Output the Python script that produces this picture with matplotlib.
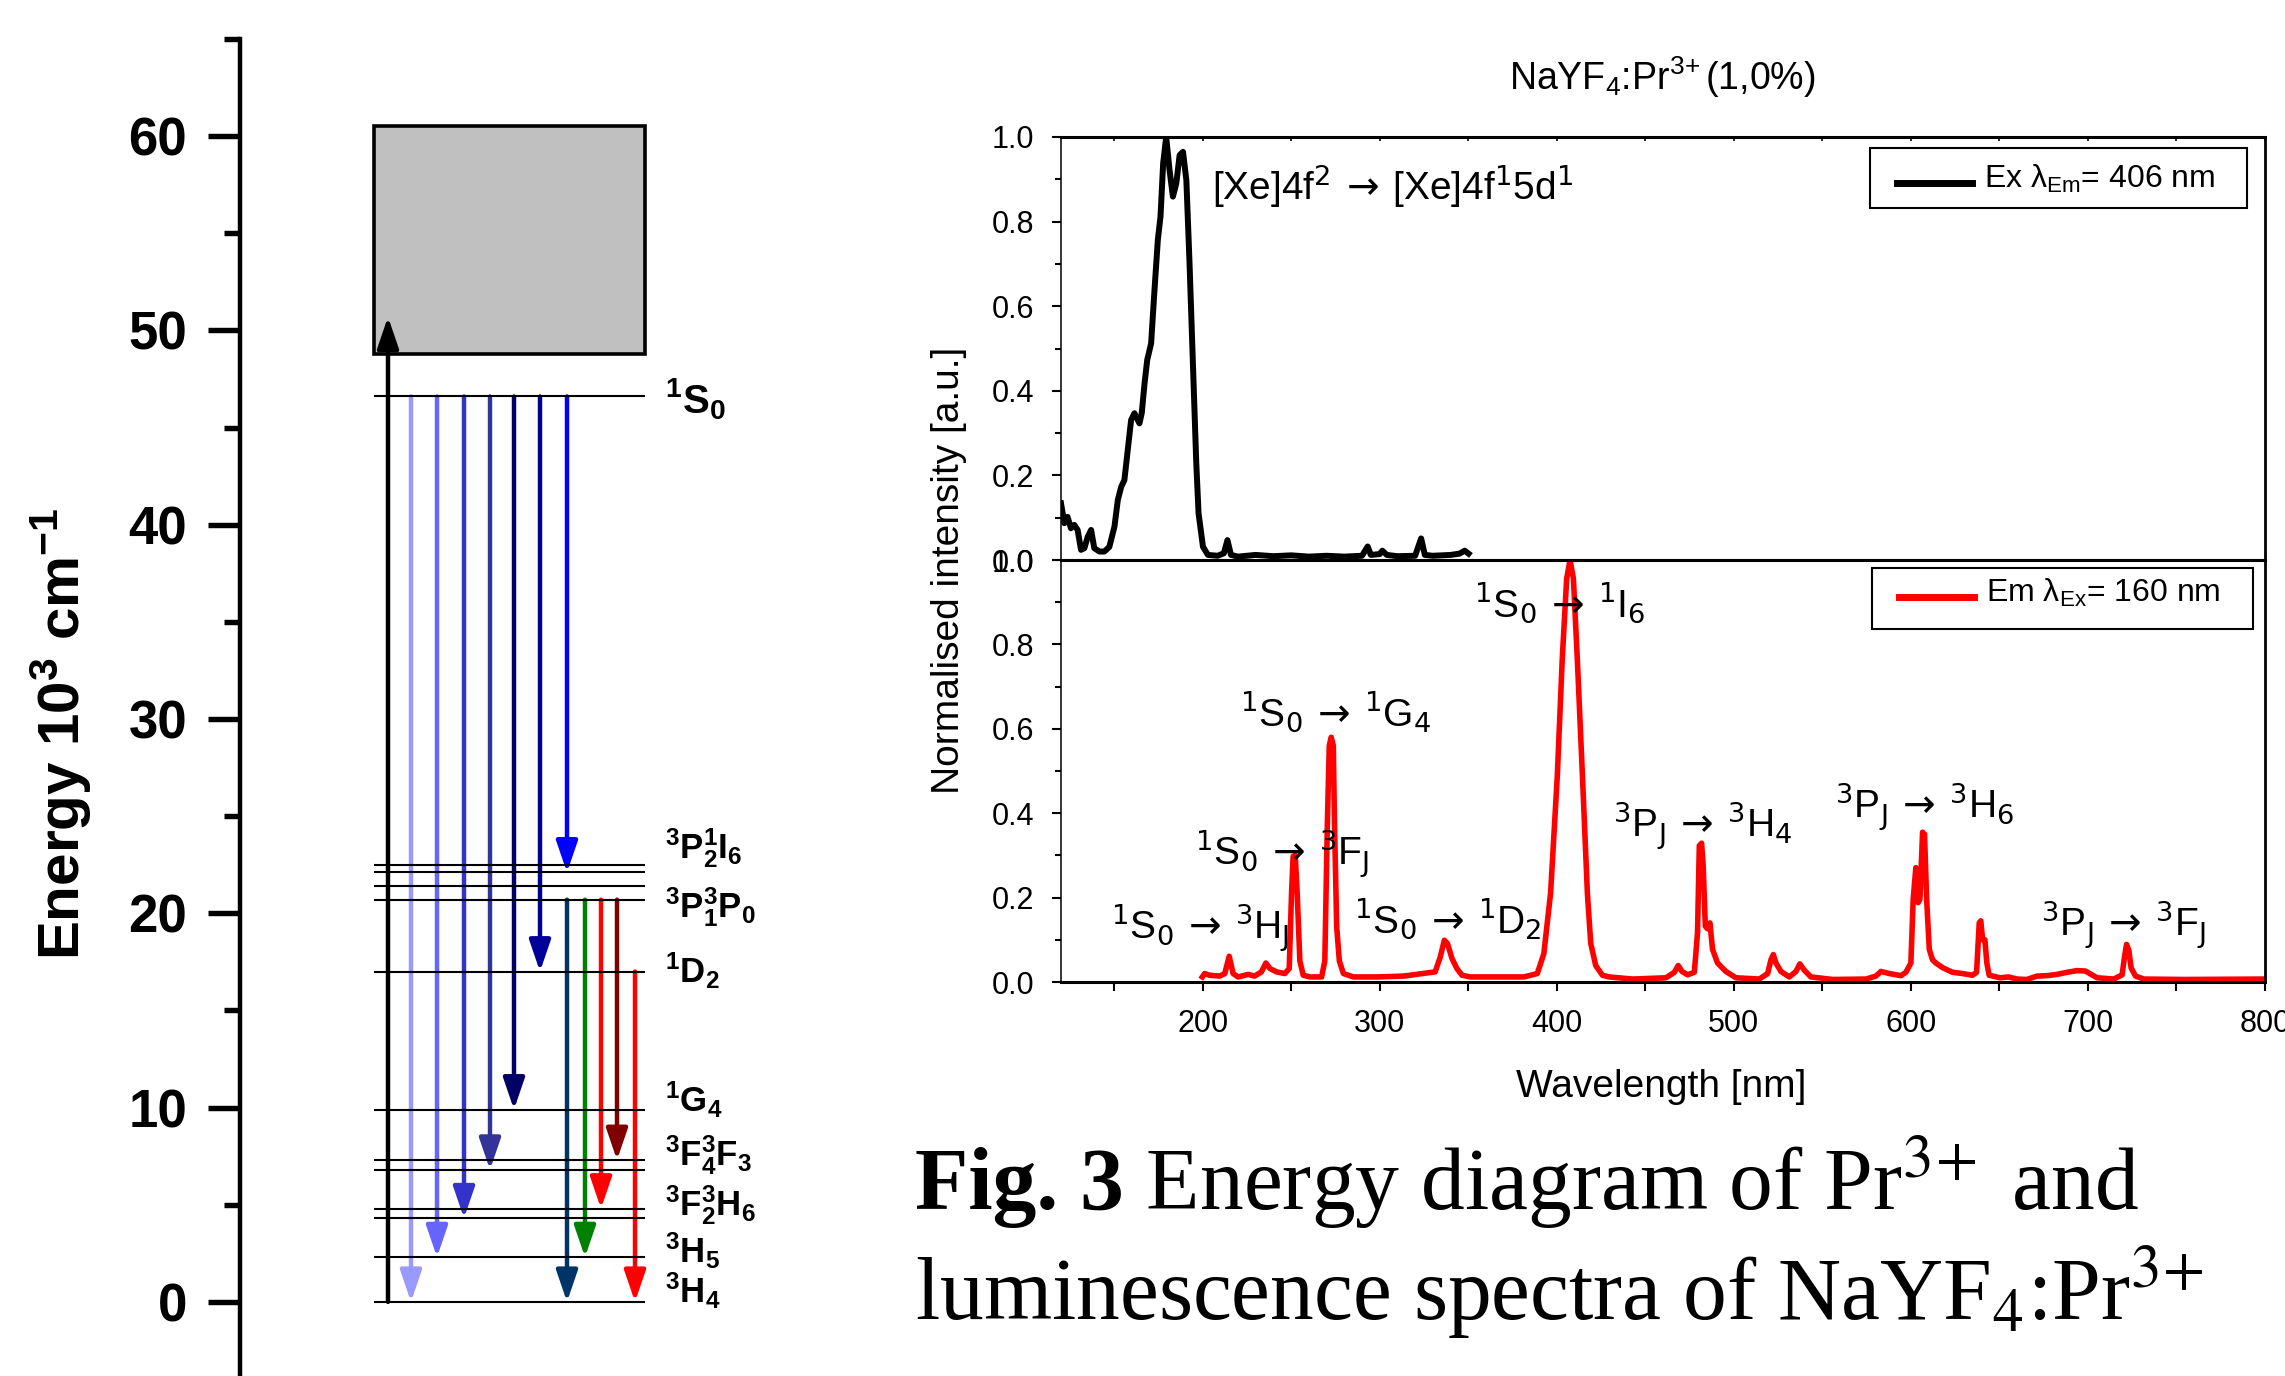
import matplotlib
matplotlib.use('Agg')
import matplotlib.pyplot as plt
from matplotlib.patches import Rectangle, FancyArrowPatch, ArrowStyle
from matplotlib.lines import Line2D
from matplotlib.ticker import MultipleLocator

plt.rcParams['font.family'] = ['Liberation Sans', 'DejaVu Sans']
plt.rcParams['mathtext.fontset'] = 'custom'
plt.rcParams['mathtext.rm'] = 'Liberation Sans'
plt.rcParams['mathtext.it'] = 'Liberation Sans'
plt.rcParams['mathtext.bf'] = 'Liberation Sans:bold'
plt.rcParams['mathtext.default'] = 'rm'

# ---- Pr3+ energy levels (10^3 cm^-1) ----
level_names = ['1S0', '3P2', '1I6', '3P1', '3P0', '1D2', '1G4',
               '3F4', '3F3', '3F2', '3H6', '3H5', '3H4']
level_energy = [46.6, 22.5, 22.1, 21.4, 20.7, 17.0, 9.9,
                7.3, 6.8, 4.8, 4.3, 2.3, 0.0]
band_bottom, band_top = 48.8, 60.5   # 4f5d band
excitation_top = 50.7

trans_from = ['1S0'] * 7 + ['3P0'] * 4 + ['1D2']
trans_to = ['3H4', '3H5', '3H6', '3F3', '1G4', '1D2', '1I6',
            '3H4', '3H5', '3F2', '3F4', '3H4']
trans_colors = ['#9999ff', '#6666ff', '#3333cc', '#333399', '#000066',
                '#000099', '#0000ff', '#003366', '#008000', '#ff0000',
                '#800000', '#ff0000']

label_texts = [r'$\mathbf{^1S_0}$', r'$\mathbf{^3P_2^1I_6}$',
               r'$\mathbf{^3P_1^3P_0}$', r'$\mathbf{^1D_2}$',
               r'$\mathbf{^1G_4}$', r'$\mathbf{^3F_4^3F_3}$',
               r'$\mathbf{^3F_2^3H_6}$', r'$\mathbf{^3H_5}$',
               r'$\mathbf{^3H_4}$']
label_energy = [45.75, 22.85, 19.81, 16.42, 9.75, 7.05, 4.47, 2.0, -0.05]

# ---- spectra ----
ex_wl = [120.0, 121.9, 123.7, 125.6, 127.5, 129.4, 131.3, 133.2, 135.1, 137.0,
         138.8, 141.7, 144.5, 147.3, 150.2, 152.1, 154.0, 155.8, 157.7, 159.6,
         161.5, 164.3, 165.6, 167.2, 168.7, 170.9, 172.8, 174.7, 176.2, 177.7,
         179.4, 181.3, 183.2, 185.1, 187.0, 188.9, 190.8, 192.6, 194.5, 196.4,
         197.7, 200.2, 203.0, 208.5, 212.0, 214.0, 216.0, 220.0, 230.0, 240.0,
         250.0, 260.0, 270.0, 280.0, 290.0, 293.2, 295.0, 300.0, 301.5, 304.0,
         310.0, 320.0, 323.4, 325.5, 330.0, 340.0, 345.0, 348.0, 350.2]
ex_int = [0.134, 0.087, 0.102, 0.075, 0.083, 0.071, 0.024, 0.028, 0.055, 0.071,
          0.028, 0.020, 0.020, 0.031, 0.079, 0.142, 0.173, 0.189, 0.260, 0.331,
          0.347, 0.323, 0.347, 0.418, 0.473, 0.512, 0.638, 0.757, 0.812, 0.938,
          1.000, 0.922, 0.859, 0.890, 0.957, 0.965, 0.898, 0.701, 0.465, 0.229,
          0.110, 0.031, 0.012, 0.010, 0.016, 0.047, 0.012, 0.008, 0.012, 0.009,
          0.011, 0.008, 0.010, 0.008, 0.010, 0.032, 0.012, 0.014, 0.022, 0.012,
          0.009, 0.010, 0.051, 0.012, 0.010, 0.012, 0.015, 0.022, 0.015]

em_wl = [199.8, 201.1, 203.9, 209.6, 212.5, 215.0, 217.2, 220.0, 225.7, 229.4,
         233.2, 235.7, 238.0, 241.7, 246.4, 248.9, 250.2, 251.1, 252.3, 253.4,
         254.9, 256.8, 260.6, 267.2, 269.0, 270.4, 271.5, 272.6, 273.8, 274.5,
         275.7, 277.2, 279.5, 285.1, 298.3, 313.4, 331.3, 334.2, 336.5, 338.3,
         340.8, 343.6, 346.5, 351.2, 381.4, 389.0, 392.7, 396.5, 400.3, 403.1,
         405.6, 407.5, 409.4, 411.6, 414.5, 417.3, 419.2, 422.0, 425.8, 429.6,
         442.8, 461.7, 466.4, 468.6, 470.7, 473.9, 477.7, 479.5, 480.5, 481.8,
         482.7, 483.9, 485.2, 486.5, 488.0, 490.8, 495.5, 501.2, 514.4, 519.1,
         521.0, 522.3, 523.8, 526.6, 531.3, 535.1, 537.3, 539.8, 543.5, 555.8,
         574.6, 580.2, 583.1, 587.8, 594.4, 597.2, 600.0, 601.3, 602.8, 604.1,
         605.1, 606.6, 607.7, 608.9, 610.4, 612.2, 614.1, 617.9, 623.5, 629.2,
         634.8, 637.1, 638.6, 639.5, 640.5, 641.8, 642.9, 644.2, 650.4, 655.1,
         659.8, 665.5, 671.2, 676.8, 682.5, 688.2, 693.8, 698.6, 701.4, 705.2,
         714.6, 719.3, 720.7, 721.8, 723.1, 724.4, 726.9, 731.6, 754.3, 799.6]
em_int = [0.012, 0.020, 0.016, 0.014, 0.020, 0.061, 0.020, 0.012, 0.018, 0.014,
          0.024, 0.045, 0.032, 0.024, 0.020, 0.032, 0.210, 0.298, 0.300, 0.210,
          0.050, 0.016, 0.012, 0.012, 0.050, 0.369, 0.560, 0.580, 0.560, 0.369,
          0.131, 0.050, 0.020, 0.012, 0.012, 0.014, 0.024, 0.059, 0.099, 0.091,
          0.056, 0.032, 0.016, 0.012, 0.012, 0.020, 0.067, 0.210, 0.488, 0.766,
          0.956, 1.000, 0.956, 0.766, 0.488, 0.210, 0.091, 0.039, 0.016, 0.012,
          0.007, 0.010, 0.023, 0.039, 0.025, 0.017, 0.023, 0.117, 0.323, 0.329,
          0.275, 0.132, 0.126, 0.140, 0.077, 0.045, 0.025, 0.010, 0.007, 0.020,
          0.053, 0.065, 0.045, 0.025, 0.012, 0.025, 0.043, 0.028, 0.012, 0.006,
          0.007, 0.014, 0.025, 0.020, 0.015, 0.023, 0.045, 0.196, 0.271, 0.188,
          0.196, 0.355, 0.350, 0.196, 0.077, 0.053, 0.045, 0.034, 0.023, 0.020,
          0.016, 0.023, 0.140, 0.145, 0.100, 0.100, 0.045, 0.016, 0.010, 0.012,
          0.007, 0.006, 0.014, 0.015, 0.018, 0.023, 0.027, 0.026, 0.019, 0.010,
          0.007, 0.017, 0.061, 0.089, 0.075, 0.033, 0.014, 0.007, 0.006, 0.007]

ARROW = r'$\,\rightarrow\,$'
em_labels = [r'$^1$S$_0$' + ARROW + r'$^3$H$_J$', r'$^1$S$_0$' + ARROW + r'$^3$F$_J$',
             r'$^1$S$_0$' + ARROW + r'$^1$G$_4$', r'$^1$S$_0$' + ARROW + r'$^1$D$_2$',
             r'$^1$S$_0$' + ARROW + r'$^1$I$_6$', r'$^3$P$_J$' + ARROW + r'$^3$H$_4$',
             r'$^3$P$_J$' + ARROW + r'$^3$H$_6$', r'$^3$P$_J$' + ARROW + r'$^3$F$_J$']
em_label_x = [198.5, 245.0, 274.8, 338.2, 401.6, 482.4, 607.7, 720.2]
em_label_y = [0.100, 0.275, 0.608, 0.117, 0.866, 0.343, 0.386, 0.108]

W, H = 2285, 1376
fig = plt.figure(figsize=(W / 100, H / 100), dpi=100)

# ================= energy diagram =================
ax = fig.add_axes([240 / W, -23 / H, 640 / W, 1360 / H])
ax.set_xlim(0, 640)
ax.set_ylim(-5, 65)
for s in ['top', 'right', 'bottom']:
    ax.spines[s].set_visible(False)
ax.spines['left'].set_linewidth(3.2)
ax.set_xticks([])
ax.yaxis.set_major_locator(MultipleLocator(10))
ax.yaxis.set_minor_locator(MultipleLocator(5))
ax.tick_params(axis='y', which='major', length=23, width=3.9, labelsize=38, pad=15)
ax.tick_params(axis='y', which='minor', length=11.5, width=3.9)
for t in ax.get_yticklabels():
    t.set_fontweight('bold')

level_x0, level_x1 = 134, 405
ax.hlines(level_energy, level_x0, level_x1, color='k', lw=1.5)
ax.add_patch(Rectangle((level_x0, band_bottom), level_x1 - level_x0,
                       band_top - band_bottom, fc='#c0c0c0', ec='k', lw=2.6))

energy = dict(zip(level_names, level_energy))


def arrow(x, y0, y1, color):
    ax.add_patch(FancyArrowPatch((x, y0), (x, y1),
                                 arrowstyle=ArrowStyle('-|>', head_length=19, head_width=6.5),
                                 mutation_scale=1, shrinkA=0, shrinkB=0,
                                 color=color, lw=3.2))


arrow(148, 0.0, excitation_top, 'k')
arrow_x = [171, 197, 224, 250, 274, 300, 327, 327, 345, 361, 377, 395]
for x, a, b, c in zip(arrow_x, trans_from, trans_to, trans_colors):
    arrow(x, energy[a], energy[b], c)

for txt, e in zip(label_texts, label_energy):
    size = 29 if txt.startswith(r'$\mathbf{^1S') else 25
    ax.text(425, e, txt, fontsize=size, ha='left', va='baseline')

fig.text(61 / W, 1 - 734 / H, r'Energy 10$^{\mathbf{3}}$ cm$^{\mathbf{-1}}$',
         rotation=90, ha='center', va='center', fontsize=42, fontweight='bold')

# ================= spectra =================
left, width = 1061 / W, 1204 / W
ax1 = fig.add_axes([left, 1 - 560 / H, width, 423 / H])
ax2 = fig.add_axes([left, 1 - 982 / H, width, 422 / H])

for a in (ax1, ax2):
    a.set_xlim(120, 800)
    a.set_ylim(0, 1.0)
    a.spines['top'].set_linewidth(2.2)
    a.spines['bottom'].set_linewidth(2.2)
    a.spines['left'].set_linewidth(1.1)
    a.spines['right'].set_linewidth(2.0)
    a.xaxis.set_major_locator(MultipleLocator(100))
    a.xaxis.set_minor_locator(MultipleLocator(50))
    a.yaxis.set_major_locator(MultipleLocator(0.2))
    a.yaxis.set_minor_locator(MultipleLocator(0.1))
    a.tick_params(axis='y', which='major', direction='out', length=6.5, width=1.5,
                  labelsize=22, pad=13)
    a.tick_params(axis='y', which='minor', direction='out', length=4.5, width=1.5)

ax1.tick_params(axis='x', which='both', bottom=False, top=True, direction='in',
                length=3, width=1.2, labelbottom=False)
ax2.tick_params(axis='x', which='both', direction='out', length=6.5, width=1.5,
                labelsize=22, pad=13)

ex_line, = ax1.plot(ex_wl, ex_int, color='k', lw=4.3)
em_line, = ax2.plot(em_wl, em_int, color='#ff0000', lw=4.0)


# legend boxes drawn in figure pixels
def legend_box(x0, y0, x1, y1, line_y, text_base, handle, label):
    fig.add_artist(Rectangle((x0 / W, 1 - y1 / H), (x1 - x0) / W, (y1 - y0) / H,
                             transform=fig.transFigure, fc='white', ec='k', lw=1.5))
    fig.add_artist(Line2D([(x0 + 27) / W, (x0 + 102) / W], [1 - line_y / H] * 2,
                          transform=fig.transFigure, color=handle.get_color(), lw=5))
    fig.text((x0 + 114) / W, 1 - text_base / H, label, fontsize=23,
             ha='left', va='baseline')


legend_box(1870, 148, 2247, 208, 183, 188, ex_line, r'Ex $\lambda_{\rm Em}$= 406 nm')
legend_box(1872, 568, 2253, 629, 597, 602, em_line, r'Em $\lambda_{\rm Ex}$= 160 nm')

ax1.text(205, 0.851, r'[Xe]4f$^2$' + ARROW + r'[Xe]4f$^1$5d$^1$', fontsize=28,
         ha='left', va='baseline', math_fontfamily='dejavusans')
for txt, x, y in zip(em_labels, em_label_x, em_label_y):
    ax2.text(x, y, txt, fontsize=28, ha='center', va='baseline',
             math_fontfamily='dejavusans')

fig.text(1662 / W, 1 - 90 / H, r'NaYF$_4$:Pr$^{3\!+}$(1,0%)', fontsize=27,
         ha='center', va='baseline')
fig.text(1661 / W, 1 - 1097 / H, 'Wavelength [nm]', fontsize=28,
         ha='center', va='baseline')
fig.text(949 / W, 1 - 570 / H, 'Normalised intensity [a.u.]', fontsize=28,
         rotation=90, ha='center', va='center')

# ================= caption =================
renderer = fig.canvas.get_renderer()
bold = fig.text(915 / W, 1 - 1209 / H, 'Fig. 3', fontsize=63, fontweight='bold',
                family='Liberation Serif', ha='left', va='baseline')
x_after = bold.get_window_extent(renderer).x1 / W
fig.text(x_after, 1 - 1209 / H, r' Energy diagram of Pr$^{3\!+}$ and',
         fontsize=63, family='Liberation Serif', math_fontfamily='stix',
         ha='left', va='baseline')
fig.text(915 / W, 1 - 1319 / H, r'luminescence spectra of NaYF$_4$:Pr$^{3\!+}$',
         fontsize=63, family='Liberation Serif', math_fontfamily='stix',
         ha='left', va='baseline')

fig.savefig('out.png', dpi=100)
